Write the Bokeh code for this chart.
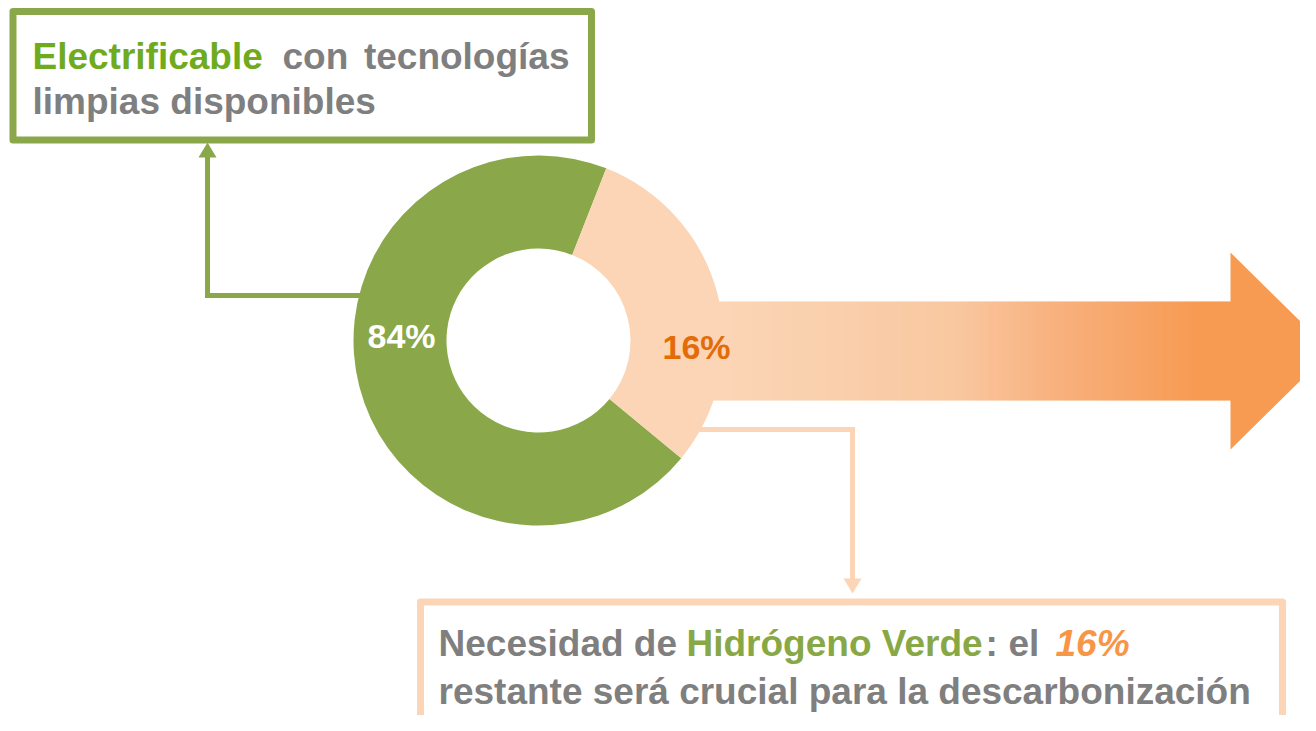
import numpy as np
from bokeh.plotting import figure
from bokeh.models import Range1d
from bokeh.core.properties import value
from bokeh.embed import file_html
from bokeh.resources import INLINE

# ---------------- data ----------------
segments = ["Electrificable", "Hidrógeno Verde"]
shares_drawn = [70.0, 30.0]          # arc shares as drawn in the reference
share_labels = ["84%", "16%"]
segment_colors = ["#8AA84A", "#FBD5B5"]
label_colors = ["#FFFFFF", "#E36C09"]

top_line1_words = ["Electrificable", "con", "tecnologías"]
top_line2 = "limpias disponibles"
bottom_line1_parts = ["Necesidad de", "Hidrógeno Verde", ":", "el", "16%"]
bottom_line2 = "restante será crucial para la descarbonización"

# ---------------- styling / layout ----------------
GRAY = "#7F7F7F"
GREEN_BOX = "#8AA84A"
GREEN_TXT = "#70AB1E"
GREEN_TXT2 = "#88A845"
PEACH = "#FBD5B5"
ORANGE = "#F79646"
FONT = value("Liberation Sans")
FS = "37px"
DY = 12  # compensation of the renderer's baseline offset

p = figure(width=1300, height=715, x_range=Range1d(0, 1300), y_range=Range1d(-715, 0),
           output_backend="svg", toolbar_location=None, min_border=0)
p.axis.visible = False
p.grid.visible = False
p.outline_line_color = None
p.background_fill_color = "white"
p.border_fill_color = "white"

# ---------------- gradient arrow ----------------
def hex2rgb(h):
    h = h.lstrip("#")
    return np.array([int(h[i:i + 2], 16) for i in (0, 2, 4)], dtype=float)

stops_x = [700, 800, 950, 1050, 1130, 1200]
stops_c = ["#FBD6B6", "#FAD1AF", "#F9C8A1", "#F8B27F", "#F7A568", "#F79A52"]
xs = np.arange(700, 1232, 2.0)
cols = []
for xv in xs:
    rgb = [np.interp(xv, stops_x, [hex2rgb(c)[k] for c in stops_c]) for k in range(3)]
    cols.append("#%02X%02X%02X" % tuple(int(round(v)) for v in rgb))
p.quad(left=xs, right=xs + 2.6, top=-301, bottom=-400, fill_color=cols, line_color=None)
p.patch(x=[1230, 1330, 1230], y=[-252, -350.5, -449], fill_color="#F79A52", line_color=None)

# ---------------- connectors ----------------
p.line(x=[697, 852, 852], y=[-429, -429, -580], line_color=PEACH, line_width=5, line_join="miter")
p.patch(x=[843, 861, 852], y=[-578, -578, -593], fill_color=PEACH, line_color=None)
p.line(x=[380, 207, 207], y=[-295, -295, -156], line_color=GREEN_BOX, line_width=5, line_join="miter")
p.patch(x=[198, 216, 207], y=[-157, -157, -142], fill_color=GREEN_BOX, line_color=None)

# ---------------- donut ----------------
cx, cy, r_in, r_out = 538, -340, 92, 185
start0 = np.deg2rad(68.5)
fr = np.array(shares_drawn) / sum(shares_drawn)
ends = start0 + 2 * np.pi * np.cumsum(fr)
starts = np.concatenate([[start0], ends[:-1]])
p.annular_wedge(x=cx, y=cy, inner_radius=r_in, outer_radius=r_out,
                start_angle=starts, end_angle=ends, direction="anticlock",
                fill_color=segment_colors, line_color=None)

p.text(x=[401, 696], y=[-347 + DY, -358 + DY], text=share_labels, text_color=label_colors,
       text_font=FONT, text_font_style="bold", text_font_size="34px",
       text_align="center", text_baseline="alphabetic")

# ---------------- boxes ----------------
p.quad(left=12.5, right=591, top=-11, bottom=-139.5, fill_color=None,
       line_color=GREEN_BOX, line_width=7, line_join="round")
p.quad(left=420, right=1282, top=-601.5, bottom=-726, fill_color=None,
       line_color=PEACH, line_width=7, line_join="round")

# ---------------- top box text ----------------
p.text(x=[32], y=[-68 + DY], text=[top_line1_words[0]], text_color=GREEN_TXT,
       text_font=FONT, text_font_style="bold", text_font_size=FS,
       text_align="left", text_baseline="alphabetic")
p.text(x=[282, 569], y=[-68 + DY, -68 + DY], text=top_line1_words[1:], text_color=GRAY,
       text_font=FONT, text_font_style="bold", text_font_size=FS,
       text_align=["left", "right"], text_baseline="alphabetic")
p.text(x=[32], y=[-113 + DY], text=[top_line2], text_color=GRAY,
       text_font=FONT, text_font_style="bold", text_font_size=FS,
       text_align="left", text_baseline="alphabetic")

# ---------------- bottom box text ----------------
p.text(x=[438, 985, 1008], y=[-655 + DY] * 3,
       text=[bottom_line1_parts[0], bottom_line1_parts[2], bottom_line1_parts[3]],
       text_color=GRAY, text_font=FONT, text_font_style="bold", text_font_size=FS,
       text_align="left", text_baseline="alphabetic")
p.text(x=[686], y=[-655 + DY], text=[bottom_line1_parts[1]], text_color=GREEN_TXT2,
       text_font=FONT, text_font_style="bold", text_font_size=FS,
       text_align="left", text_baseline="alphabetic")
p.text(x=[1055], y=[-655 + DY], text=[bottom_line1_parts[4]], text_color=ORANGE,
       text_font=FONT, text_font_style="bold italic", text_font_size=FS,
       text_align="left", text_baseline="alphabetic")
p.text(x=[438], y=[-703 + DY], text=[bottom_line2], text_color=GRAY,
       text_font=FONT, text_font_style="bold", text_font_size=FS,
       text_align="left", text_baseline="alphabetic")

open("out.html", "w").write(file_html(p, INLINE))
